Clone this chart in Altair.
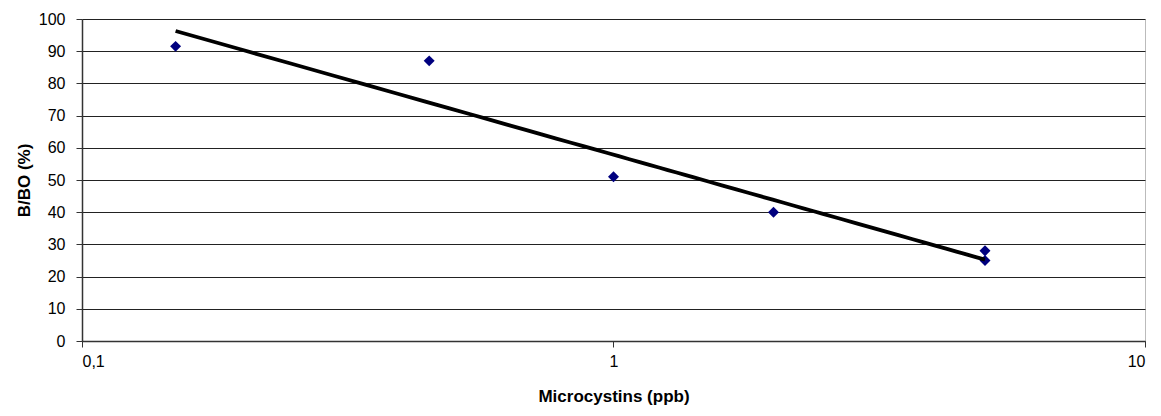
import altair as alt
import pandas as pd

conc = [0.15, 0.45, 1.0, 2.0, 5.0, 5.0]
bbo = [91.5, 87.0, 51.0, 40.0, 28.0, 25.0]

df = pd.DataFrame({"conc": conc, "bbo": bbo})

FONT = "Liberation Sans"

x_enc = alt.X(
    "conc:Q",
    scale=alt.Scale(type="log", domain=[0.1, 10]),
    axis=alt.Axis(
        title="Microcystins (ppb)",
        values=[0.1, 1, 10],
        labelExpr="replace(format(datum.value, ''), '.', ',')",
        grid=False,
        tickSize=6,
        tickColor="#333333",
        domainColor="#333333",
        labelPadding=6,
        titlePadding=19,
    ),
)
y_enc = alt.Y(
    "bbo:Q",
    scale=alt.Scale(domain=[0, 100]),
    axis=alt.Axis(
        title="B/BO (%)",
        values=list(range(0, 101, 10)),
        tickCount=11,
        grid=True,
        gridColor="#222222",
        gridWidth=1,
        gridOpacity=1,
        tickSize=6,
        tickColor="#333333",
        domainColor="#333333",
        labelPadding=11,
        titlePadding=5,
    ),
)

points = alt.Chart(df).mark_point(
    shape="diamond", filled=True, color="#00007f", size=120, opacity=1
).encode(x=x_enc, y=y_enc)

trend = alt.Chart(df).transform_regression(
    "conc", "bbo", method="log"
).mark_line(color="#000000", strokeWidth=3.8).encode(x=x_enc, y=y_enc)

chart = alt.layer(points, trend).properties(
    width=1063,
    height=322,
    autosize="none",
    padding={"left": 74, "top": 11, "right": 8, "bottom": 70},
).configure_view(
    stroke="#bbbbbb", strokeWidth=1
).configure_axis(
    labelFont=FONT,
    titleFont=FONT,
    labelFontSize=16,
    titleFontSize=17,
    titleFontWeight="bold",
    labelColor="#000000",
    titleColor="#000000",
    domainWidth=1.5,
)

chart.save("out.html", embed_options={"renderer": "svg", "actions": False})
